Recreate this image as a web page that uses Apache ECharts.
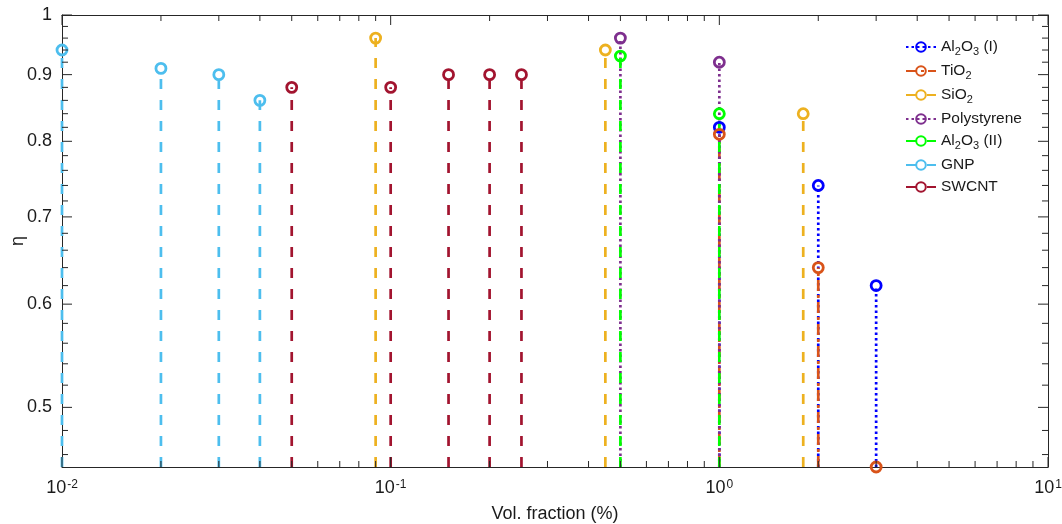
<!DOCTYPE html>
<html><head><meta charset="utf-8">
<script src="https://cdn.jsdelivr.net/npm/echarts@6/dist/echarts.min.js"></script>
<style>html,body{margin:0;padding:0;background:#fff}#c{width:1062px;height:524px}</style>
</head><body><div id="c"></div>
<script>
// ---- data ----
const seriesNames = ['Al2O3 (I)', 'TiO2', 'SiO2', 'Polystyrene', 'Al2O3 (II)', 'GNP', 'SWCNT'];
const al2o3I_x = [1, 2, 3];            const al2o3I_y = [0.82, 0.74, 0.62];
const tio2_x = [1, 2, 3];              const tio2_y = [0.81, 0.64, 0.45];
const sio2_x = [0.09, 0.45, 1.8];      const sio2_y = [0.96, 0.94, 0.84];
const polystyrene_x = [0.5, 1];        const polystyrene_y = [0.96, 0.92];
const al2o3II_x = [0.5, 1];            const al2o3II_y = [0.93, 0.84];
const gnp_x = [0.01, 0.02, 0.03, 0.04]; const gnp_y = [0.94, 0.91, 0.90, 0.86];
const swcnt_x = [0.05, 0.1, 0.15, 0.2, 0.25]; const swcnt_y = [0.88, 0.88, 0.90, 0.90, 0.90];

const xMajorTicks = [0.01, 0.1, 1, 10];
const xMinorTicks = [0.02, 0.03, 0.04, 0.05, 0.06, 0.07, 0.08, 0.09,
                     0.2, 0.3, 0.4, 0.5, 0.6, 0.7, 0.8, 0.9,
                     2, 3, 4, 5, 6, 7, 8, 9];
const yMajorTicks = [0.5, 0.6, 0.7, 0.8, 0.9, 1];
const yMinorTicks = [0.46, 0.48, 0.52, 0.54, 0.56, 0.58, 0.62, 0.64, 0.66, 0.68,
                     0.72, 0.74, 0.76, 0.78, 0.82, 0.84, 0.86, 0.88, 0.92, 0.94, 0.96, 0.98];
const xMin = 0.01, xMax = 10, yMin = 0.45, yMax = 1;

// ---- styles ----
const groups = [
  { name: seriesNames[0], xs: al2o3I_x, ys: al2o3I_y, color: '#0000FF', dash: [2.5, 3] },
  { name: seriesNames[1], xs: tio2_x, ys: tio2_y, color: '#D95319', dash: [11, 4, 3, 4] },
  { name: seriesNames[2], xs: sio2_x, ys: sio2_y, color: '#EDB120', dash: [10, 11] },
  { name: seriesNames[3], xs: polystyrene_x, ys: polystyrene_y, color: '#7E2F8E', dash: [2.5, 3] },
  { name: seriesNames[4], xs: al2o3II_x, ys: al2o3II_y, color: '#00FF00', dash: [10, 11] },
  { name: seriesNames[5], xs: gnp_x, ys: gnp_y, color: '#4DBEEE', dash: [10, 11] },
  { name: seriesNames[6], xs: swcnt_x, ys: swcnt_y, color: '#A2142F', dash: [10, 11] }
];
const textColor = '#1a1a1a';
const axisColor = '#262626';
const FONT = 'Liberation Sans, Arial, sans-serif';
function richName(n) { return n.replace(/(\D)(\d)/g, '$1{sub|$2}'); }

// stems: one line series per material, baseline point -> value point, broken between stems
const series = groups.map(g => {
  const data = [];
  g.xs.forEach((x, i) => {
    data.push({ value: [x, yMin], symbol: 'none' });
    data.push({ value: [x, g.ys[i]] });
    data.push({ value: [x, '-'], symbol: 'none' });
  });
  return {
    type: 'line', name: g.name, data, xAxisIndex: 0, yAxisIndex: 0, connectNulls: false,
    symbol: 'circle', symbolSize: 10, clip: false,
    lineStyle: { color: g.color, width: 2.7, type: g.dash },
    itemStyle: { color: 'rgba(255,255,255,0)', borderColor: g.color, borderWidth: 2.8 }
  };
});

// inside tick marks on all four sides, positioned through the axes' scales
function xTickSeries(values, len) {
  return {
    type: 'custom', xAxisIndex: 0, yAxisIndex: 0, silent: true, clip: false, zlevel: 1, z: 5,
    data: values.map(v => [v, yMin]),
    renderItem: (params, api) => {
      const pb = api.coord([api.value(0), yMin]);
      const pt = api.coord([api.value(0), yMax]);
      const st = { stroke: axisColor, lineWidth: 1 };
      return { type: 'group', children: [
        { type: 'line', shape: { x1: pb[0], y1: pb[1], x2: pb[0], y2: pb[1] - len }, style: st },
        { type: 'line', shape: { x1: pt[0], y1: pt[1], x2: pt[0], y2: pt[1] + len }, style: st }
      ] };
    }
  };
}
function yTickSeries(values, len) {
  return {
    type: 'custom', xAxisIndex: 0, yAxisIndex: 0, silent: true, clip: false, zlevel: 1, z: 5,
    data: values.map(v => [xMin, v]),
    renderItem: (params, api) => {
      const pl = api.coord([xMin, api.value(1)]);
      const pr = api.coord([xMax, api.value(1)]);
      const st = { stroke: axisColor, lineWidth: 1 };
      return { type: 'group', children: [
        { type: 'line', shape: { x1: pl[0], y1: pl[1], x2: pl[0] + len, y2: pl[1] }, style: st },
        { type: 'line', shape: { x1: pr[0], y1: pr[1], x2: pr[0] - len, y2: pr[1] }, style: st }
      ] };
    }
  };
}
series.push(xTickSeries(xMajorTicks, 10), xTickSeries(xMinorTicks, 6),
            yTickSeries(yMajorTicks, 10), yTickSeries(yMinorTicks, 6));

const chart = echarts.init(document.getElementById('c'), null, { renderer: 'canvas' });
chart.setOption({
  animation: false,
  backgroundColor: '#ffffff',
  textStyle: { fontFamily: FONT },
  grid: { left: 62, right: 14, top: 15, bottom: 57, containLabel: false, outerBoundsMode: 'none' },
  xAxis: [
    { type: 'log', logBase: 10, min: xMin, max: xMax, position: 'bottom',
      axisLine: { show: true, onZero: false, lineStyle: { color: axisColor, width: 1 } },
      axisTick: { show: false },
      axisLabel: { show: true, customValues: xMajorTicks, margin: 12, color: textColor, fontFamily: FONT, fontSize: 18,
        formatter: v => '10{sup|' + Math.round(Math.log10(v)) + '}',
        rich: { sup: { fontSize: 12, verticalAlign: 'top', fontFamily: FONT, color: textColor, padding: [0, 0, 6, 1] } } },
      splitLine: { show: false },
      name: 'Vol. fraction (%)', nameLocation: 'middle', nameGap: 38,
      nameTextStyle: { color: textColor, fontFamily: FONT, fontSize: 18 } },
    { type: 'log', logBase: 10, min: xMin, max: xMax, position: 'top',
      axisLine: { show: true, onZero: false, lineStyle: { color: axisColor, width: 1 } },
      axisTick: { show: false }, axisLabel: { show: false }, splitLine: { show: false } }
  ],
  yAxis: [
    { type: 'log', logBase: 10, min: yMin, max: yMax, position: 'left',
      axisLine: { show: true, onZero: false, lineStyle: { color: axisColor, width: 1 } },
      axisTick: { show: false },
      axisLabel: { show: true, customValues: yMajorTicks, margin: 10, color: textColor, fontFamily: FONT, fontSize: 18,
        formatter: v => String(parseFloat(Number(v).toPrecision(6))) },
      splitLine: { show: false },
      name: 'η', nameLocation: 'middle', nameGap: 35, nameMoveOverlap: false,
      nameTextStyle: { color: textColor, fontFamily: FONT, fontSize: 18 } },
    { type: 'log', logBase: 10, min: yMin, max: yMax, position: 'right',
      axisLine: { show: true, onZero: false, lineStyle: { color: axisColor, width: 1 } },
      axisTick: { show: false }, axisLabel: { show: false }, splitLine: { show: false } }
  ],
  legend: {
    orient: 'vertical', left: 900, top: 34, itemGap: 6, itemWidth: 30, itemHeight: 12,
    data: seriesNames, formatter: n => richName(n),
    textStyle: { color: textColor, fontFamily: FONT, fontSize: 15.5,
      rich: { sub: { fontSize: 11, fontFamily: FONT, color: textColor, verticalAlign: 'bottom', padding: [9, 0, 0, 0] } } },
    selectedMode: false
  },
  series
});
</script></body></html>
